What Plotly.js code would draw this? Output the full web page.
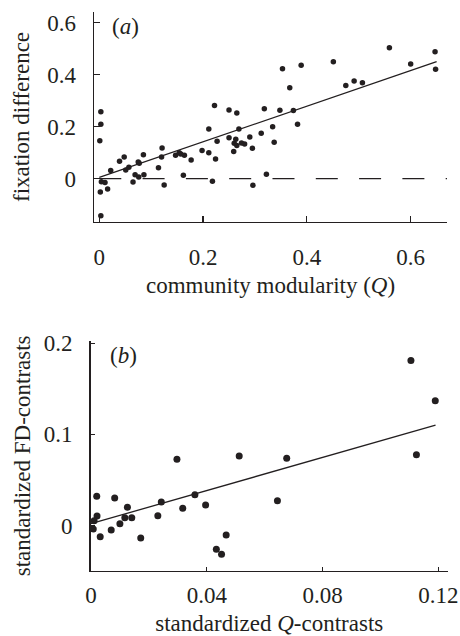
<!DOCTYPE html>
<html>
<head>
<meta charset="utf-8">
<script src="https://cdn.plot.ly/plotly-3.0.1.min.js"></script>
<style>html,body{margin:0;padding:0;background:#fff;}#chart{width:460px;height:636px;}</style>
</head>
<body>
<div id="chart"></div>
<script>
// Panel (a): community modularity (Q) vs fixation difference
var aQ = [0.003,0.003,0.001,0.004,0.011,0.002,0.016,0.022,0.039,0.048,0.051,0.057,0.065,0.069,0.075,0.077,0.076,0.085,0.086,0.114,0.120,0.121,0.125,0.147,0.154,0.157,0.164,0.162,0.177,0.198,0.211,0.211,0.218,0.222,0.224,0.227,0.250,0.250,0.259,0.260,0.263,0.265,0.265,0.269,0.274,0.280,0.290,0.295,0.296,0.312,0.318,0.322,0.334,0.337,0.348,0.353,0.367,0.374,0.382,0.389,0.451,0.475,0.491,0.507,0.559,0.600,0.647,0.648,0.003];
var aFD = [0.257,0.209,0.146,-0.012,-0.015,-0.051,-0.040,0.032,0.067,0.083,0.033,0.044,-0.013,0.015,0.064,0.059,0.007,0.092,0.015,0.042,0.083,0.118,-0.024,0.090,0.100,0.095,0.090,0.013,0.072,0.108,0.100,0.191,-0.010,0.281,0.076,0.144,0.264,0.157,0.105,0.136,0.152,0.253,0.128,0.191,0.137,0.133,0.160,0.117,-0.025,0.175,0.269,0.017,0.200,0.140,0.263,0.423,0.350,0.262,0.209,0.436,0.450,0.358,0.376,0.369,0.504,0.441,0.488,0.421,-0.142];
var aFitX = [0, 0.65];
var aFitY = [0.005, 0.45];
var aZeroX = [0, 0.67];
var aZeroY = [0, 0];
var aTicksX = [0, 0.2, 0.4, 0.6];
var aTickTextX = ["0", "0.2", "0.4", "0.6"];
var aTicksY = [0, 0.2, 0.4, 0.6];
var aTickTextY = ["0", "0.2", "0.4", "0.6"];

// Panel (b): standardized Q-contrasts vs standardized FD-contrasts
var bQ = [0.0020,0.0082,0.0126,0.0021,0.0011,0.0008,0.0032,0.0070,0.0100,0.0117,0.0141,0.0172,0.0231,0.0243,0.0297,0.0317,0.0359,0.0396,0.0433,0.0451,0.0467,0.0512,0.0644,0.0676,0.1105,0.1124,0.1189];
var bFD = [0.032,0.030,0.020,0.0104,0.0053,-0.0038,-0.0123,-0.005,0.002,0.0086,0.0086,-0.0137,0.0107,0.0258,0.0726,0.0189,0.0338,0.0225,-0.026,-0.0316,-0.0104,0.0762,0.0272,0.0737,0.181,0.0776,0.1368];
var bFitX = [0, 0.119];
var bFitY = [0.002, 0.110];
var bTicksX = [0, 0.04, 0.08, 0.12];
var bTickTextX = ["0", "0.04", "0.08", "0.12"];
var bTicksY = [0, 0.1, 0.2];
var bTickTextY = ["0", "0.1", "0.2"];

var FONT = "'Liberation Serif', 'Times New Roman', serif";
var INK = "#231f20";
var W = 460, H = 636;

var traces = [
  {x: aZeroX, y: aZeroY, xaxis: "x", yaxis: "y", mode: "lines",
   line: {color: INK, width: 1.2, dash: "22px,21.3px"}, hoverinfo: "skip"},
  {x: aFitX, y: aFitY, xaxis: "x", yaxis: "y", mode: "lines",
   line: {color: INK, width: 1.3}},
  {x: aQ, y: aFD, xaxis: "x", yaxis: "y", mode: "markers",
   marker: {color: INK, size: 5.5}},
  {x: bFitX, y: bFitY, xaxis: "x2", yaxis: "y2", mode: "lines",
   line: {color: INK, width: 1.3}},
  {x: bQ, y: bFD, xaxis: "x2", yaxis: "y2", mode: "markers",
   marker: {color: INK, size: 7}}
];

function axisBase() {
  return {showline: true, linecolor: INK, linewidth: 1.3, showgrid: false,
    zeroline: false, ticks: "inside", tickcolor: INK, tickwidth: 1.2,
    tickfont: {family: FONT, size: 23, color: INK}, tickmode: "array",
    automargin: false, fixedrange: true};
}

var titleFont = {family: FONT, size: 23, color: INK};

var xa = Object.assign(axisBase(), {
  domain: [94/W, 447/W], range: [-0.0102, 0.670], anchor: "y",
  tickvals: aTicksX, ticktext: aTickTextX, ticklen: 6, ticklabelstandoff: 14
});
var ya = Object.assign(axisBase(), {
  domain: [1 - 222/H, 1 - 12/H], range: [-0.1665, 0.641], anchor: "x",
  tickvals: aTicksY, ticktext: aTickTextY, ticklen: 6, ticklabelstandoff: 12,
  title: {text: "fixation difference", font: titleFont, standoff: 11}
});
var xb = Object.assign(axisBase(), {
  domain: [90.5/W, 448/W], range: [-0.00015, 0.1233], anchor: "y2",
  tickvals: bTicksX, ticktext: bTickTextX, ticklen: 4, ticklabelstandoff: 3,
  title: {text: "standardized <i>Q</i>-contrasts", font: titleFont, standoff: 22}
});
var yb = Object.assign(axisBase(), {
  domain: [1 - 570.7/H, 1 - 341/H], range: [-0.0496, 0.2023], anchor: "x2",
  tickvals: bTicksY, ticktext: bTickTextY, ticklen: 4, ticklabelstandoff: 12,
  title: {text: "standardized FD-contrasts", font: titleFont, standoff: 6}
});

var layout = {
  width: W, height: H,
  margin: {l: 0, r: 0, t: 0, b: 0},
  paper_bgcolor: "#fff", plot_bgcolor: "#fff",
  showlegend: false,
  font: {family: FONT, color: INK},
  xaxis: xa, yaxis: ya, xaxis2: xb, yaxis2: yb,
  annotations: [
    {text: "(<i>a</i>)", xref: "x domain", yref: "y domain", x: 0.045, y: 1.0,
     xanchor: "left", yanchor: "top", showarrow: false, font: titleFont},
    {text: "(<i>b</i>)", xref: "x2 domain", yref: "y2 domain", x: 0.05, y: 1.0,
     xanchor: "left", yanchor: "top", showarrow: false, font: titleFont},
    // x-axis title of panel (a)
    {text: "community modularity (<i>Q</i>)", xref: "x domain", yref: "paper",
     x: 0.5, y: 1 - 285/H, xanchor: "center", yanchor: "middle", showarrow: false, font: titleFont}
  ]
};

Plotly.newPlot("chart", traces, layout, {displayModeBar: false, staticPlot: true});
</script>
</body>
</html>
